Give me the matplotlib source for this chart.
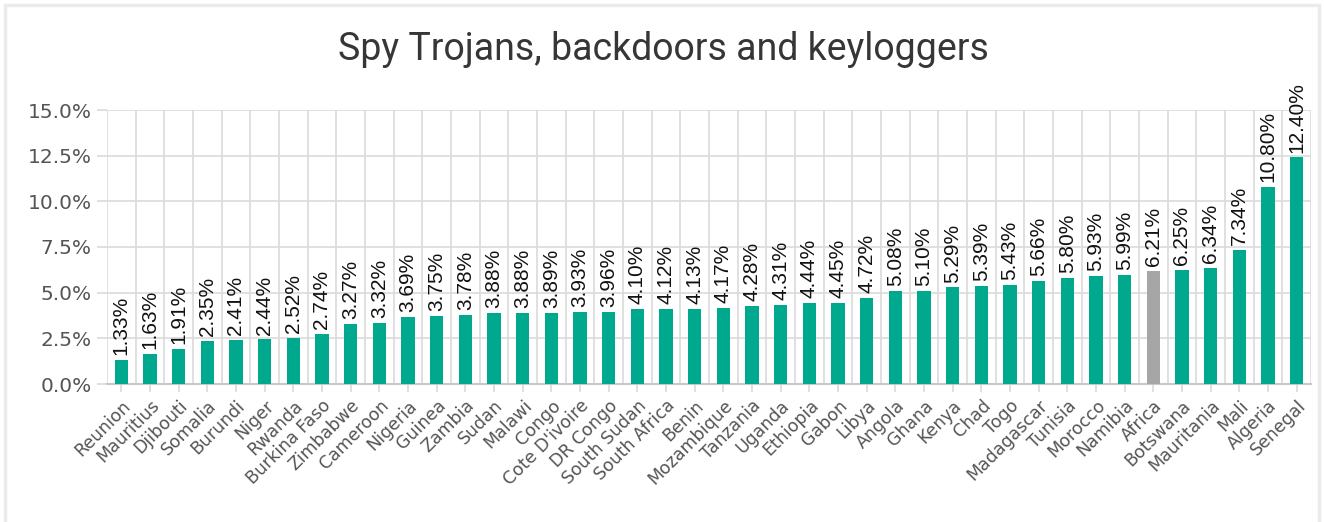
import numpy as np
import matplotlib.pyplot as plt
from matplotlib.ticker import MultipleLocator, FuncFormatter
from matplotlib.patches import Rectangle

# share of users hit by spy trojans, backdoors and keyloggers, per country
countries = ['Reunion', 'Mauritius', 'Djibouti', 'Somalia', 'Burundi', 'Niger', 'Rwanda',
             'Burkina Faso', 'Zimbabwe', 'Cameroon', 'Nigeria', 'Guinea', 'Zambia', 'Sudan',
             'Malawi', 'Congo', "Cote D'ivoire", 'DR Congo', 'South Sudan', 'South Africa',
             'Benin', 'Mozambique', 'Tanzania', 'Uganda', 'Ethiopia', 'Gabon', 'Libya',
             'Angola', 'Ghana', 'Kenya', 'Chad', 'Togo', 'Madagascar', 'Tunisia', 'Morocco',
             'Namibia', 'Africa', 'Botswana', 'Mauritania', 'Mali', 'Algeria', 'Senegal']
share = [1.33, 1.63, 1.91, 2.35, 2.41, 2.44, 2.52, 2.74, 3.27, 3.32, 3.69, 3.75, 3.78, 3.88,
         3.88, 3.89, 3.93, 3.96, 4.10, 4.12, 4.13, 4.17, 4.28, 4.31, 4.44, 4.45, 4.72, 5.08,
         5.10, 5.29, 5.39, 5.43, 5.66, 5.80, 5.93, 5.99, 6.21, 6.25, 6.34, 7.34, 10.80, 12.40]
highlight = 'Africa'

teal = '#00a88e'
grey_bar = '#a6a6a6'
grid_c = '#dadada'
txt_c = '#555555'

plt.rcParams['font.family'] = 'DejaVu Sans'

fig = plt.figure(figsize=(13.24, 5.22), dpi=100)
ax = fig.add_axes([107/1324, 1-384/522, (1311-107)/1324, (384-110)/522])

x = np.arange(len(countries))
colors = [grey_bar if c == highlight else teal for c in countries]
ax.bar(x, share, width=0.46, color=colors, zorder=3)

for xi, v in zip(x, share):
    ax.annotate('%.2f%%' % v, (xi, v), xytext=(0, 3.5), textcoords='offset points',
                rotation=90, ha='center', va='bottom', fontsize=15,
                family='Liberation Sans', color='#111111', zorder=4)

ax.set_xlim(-0.5, len(countries)-0.5)
ax.set_ylim(0, 15)
ax.yaxis.set_major_locator(MultipleLocator(2.5))
ax.yaxis.set_major_formatter(FuncFormatter(lambda v, p: '%.1f%%' % v))

ax.set_xticks(x)
ax.set_xticklabels(countries, rotation=45, ha='right', rotation_mode='anchor',
                   fontsize=12.5, color=txt_c)
ax.set_xticks(np.arange(-0.5, len(countries), 1), minor=True)
ax.tick_params(axis='x', which='major', length=6, color=grid_c, width=1.2, pad=3)
ax.tick_params(axis='x', which='minor', length=0)
ax.tick_params(axis='y', length=7, color=grid_c, width=1.2, labelsize=14.5,
               labelcolor=txt_c, pad=4)

ax.grid(True, axis='y', which='major', color=grid_c, linewidth=1.2, zorder=0)
ax.grid(True, axis='x', which='minor', color=grid_c, linewidth=1.2, zorder=0)
for s in ['top', 'right', 'left']:
    ax.spines[s].set_visible(False)
ax.spines['bottom'].set_color('#c8c8c8')
ax.spines['bottom'].set_linewidth(1.5)

fig.text(663/1324, 1-50/522, 'Spy Trojans, backdoors and keyloggers', ha='center',
         va='center', fontsize=27, family='Roboto', color='#363636')

# light frame around the panel
fig.patches.append(Rectangle((5/1324, -0.1), (1319-5)/1324, 1.1-5/522,
                             transform=fig.transFigure, fill=False,
                             edgecolor='#ebebeb', linewidth=2.5))

fig.savefig('out.png', dpi=100)
